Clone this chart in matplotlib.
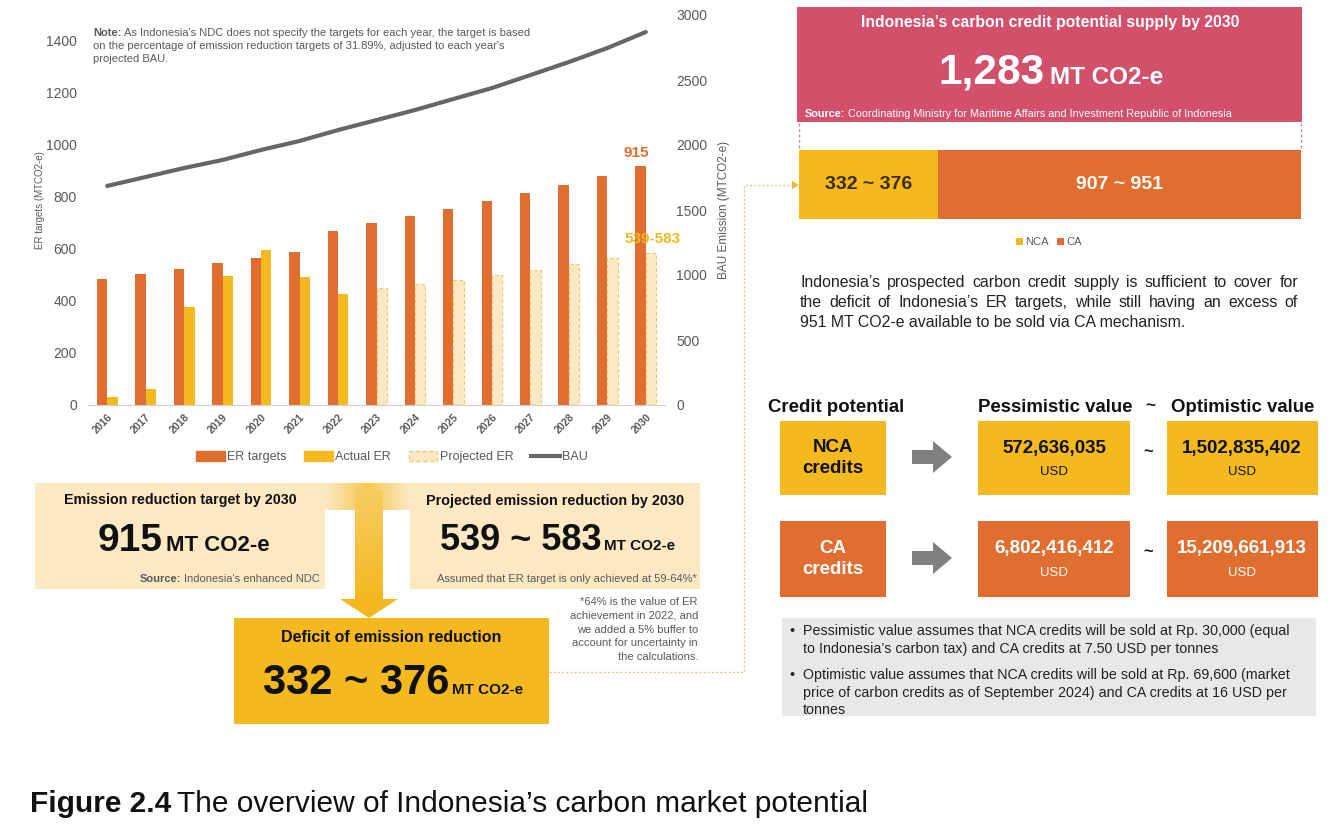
import numpy as np
import matplotlib
matplotlib.use("Agg")
import matplotlib.pyplot as plt
import matplotlib.font_manager as fm
from matplotlib.patches import Rectangle, Polygon, Patch
from matplotlib.lines import Line2D

# ---- data ----
years = [str(y) for y in range(2016, 2031)]
er_targets = [483, 502, 522, 544, 565, 587, 668, 697, 724, 752, 782, 812, 844, 877, 915]
actual_years = years[:7]
actual_er = [31, 61, 375, 495, 593, 492, 427]
proj_years = years[7:]
projected_er = [447, 465, 481, 500, 519, 541, 563, 583]
bau = [1685, 1754, 1823, 1885, 1962, 2031, 2115, 2192, 2269, 2354, 2438, 2538, 2638, 2746, 2869]

supply_labels = ["NCA", "CA"]
supply_mid = [354, 929]          # midpoints of 332~376 and 907~951
supply_text = ["332 ~ 376", "907 ~ 951"]

credit_rows = ["NCA\ncredits", "CA\ncredits"]
pessimistic = ["572,636,035", "6,802,416,412"]
optimistic = ["1,502,835,402", "15,209,661,913"]

# ---- style ----
names = {f.name for f in fm.fontManager.ttflist}
NARROW = "Liberation Sans Narrow" if "Liberation Sans Narrow" in names else "Liberation Sans"
SANS = "Liberation Sans"
plt.rcParams["font.family"] = [SANS, "DejaVu Sans"]

ORANGE = "#E06E31"
YELLOW = "#F4B91F"
PALE = "#FCE9C3"
PINK = "#D2506A"
GREY_TXT = "#595959"

W, H = 1331, 832
fig = plt.figure(figsize=(W / 100, H / 100), dpi=100)
renderer = fig.canvas.get_renderer()

# overlay in pixel coordinates
ov = fig.add_axes([0, 0, 1, 1], zorder=0)
ov.set_xlim(0, W)
ov.set_ylim(H, 0)
ov.axis("off")


def box(x0, y0, x1, y1, color, **kw):
    ov.add_patch(Rectangle((x0, y0), x1 - x0, y1 - y0, facecolor=color, lw=0, **kw))


def txt(x, y, s, **kw):
    kw.setdefault("family", SANS)
    return ov.text(x, y, s, **kw)


def after(artist, y, s, dx=3, **kw):
    # text placed right after another text artist on the same baseline
    kw.setdefault("family", SANS)
    return ov.annotate(s, xy=(1, y), xycoords=(artist, "data"), xytext=(dx, 0),
                       textcoords="offset points", va="baseline", ha="left", **kw)


def before(artist, y, s, dx=2, **kw):
    kw.setdefault("family", SANS)
    return ov.annotate(s, xy=(0, y), xycoords=(artist, "data"), xytext=(-dx, 0),
                       textcoords="offset points", va="baseline", ha="right", **kw)


def justify(x0, x1, y, line, **kw):
    words = line.split()
    arts = [txt(0, y, w, va="baseline", **kw) for w in words]
    widths = [a.get_window_extent(renderer).width for a in arts]
    gap = (x1 - x0 - sum(widths)) / (len(words) - 1)
    xx = x0
    for a, w in zip(arts, widths):
        a.set_x(xx)
        xx += w + gap


# ---- bar chart ----
ax = fig.add_axes([88 / W, 1 - 405 / H, (665 - 88) / W, (405 - 15) / H], facecolor="none", zorder=2)
x = np.arange(len(years))
bw = 0.27
ax.bar(x - bw / 2, er_targets, bw, color=ORANGE, label="ER targets")
ax.bar(x[:len(actual_er)] + bw / 2, actual_er, bw, color=YELLOW, label="Actual ER")
ax.bar(x[len(actual_er):] + bw / 2, projected_er, bw, facecolor=PALE, edgecolor="#EEC970",
       linestyle=(0, (3, 2)), lw=0.9, label="Projected ER")
ax.set_xlim(-0.5, len(years) - 0.5)
ax.set_ylim(0, 1496)
ax.set_yticks(range(0, 1401, 200))
ax.set_xticks(x)
ax.set_xticklabels(years, rotation=45, ha="right", rotation_mode="anchor")
for s in ["top", "left", "right"]:
    ax.spines[s].set_visible(False)
ax.spines["bottom"].set_color("#D0D0D0")
ax.tick_params(axis="both", length=0, colors=GREY_TXT)
ax.tick_params(axis="y", labelsize=10, pad=8)
ax.tick_params(axis="x", labelsize=7.5, pad=5)
for lab in ax.get_yticklabels() + ax.get_xticklabels():
    lab.set_family(NARROW)
for lab in ax.get_xticklabels():
    lab.set_fontweight("bold")

ax2 = ax.twinx()
ax2.plot(x, bau, color="#666666", lw=3, solid_capstyle="round")
ax2.set_ylim(0, 3000)
ax2.set_yticks(range(0, 3001, 500))
for s in ["top", "left", "right", "bottom"]:
    ax2.spines[s].set_visible(False)
ax2.tick_params(axis="y", length=0, colors=GREY_TXT, labelsize=10, pad=8)
for lab in ax2.get_yticklabels():
    lab.set_family(NARROW)

ax.annotate("915", xy=(x[-1] - bw / 2, er_targets[-1]), xytext=(-3, 5), textcoords="offset points",
            ha="center", va="bottom", color=ORANGE, fontsize=11, fontweight="bold", family=NARROW)
ax.annotate("539-583", xy=(x[-1] + bw / 2, projected_er[-1]), xytext=(1, 5), textcoords="offset points",
            ha="center", va="bottom", color=YELLOW, fontsize=11, fontweight="bold", family=NARROW)

handles = [Patch(color=ORANGE), Patch(color=YELLOW),
           Patch(facecolor=PALE, edgecolor="#EEC970", linestyle=(0, (3, 2))),
           Line2D([], [], color="#666666", lw=3)]
leg = ax.legend(handles, ["ER targets", "Actual ER", "Projected ER", "BAU"], loc="center",
                bbox_to_anchor=(392 / W, 1 - 457 / H), bbox_transform=fig.transFigure, ncol=4,
                frameon=False, handlelength=2.3, handleheight=0.8,
                handletextpad=0.2, columnspacing=1.4, prop={"family": NARROW, "size": 9})
for t in leg.get_texts():
    t.set_color(GREY_TXT)

fig.text(40 / W, 1 - 200 / H, "ER targets (MTCO2-e)", rotation=90, ha="center", va="center",
         fontsize=7, color=GREY_TXT)
fig.text(724 / W, 1 - 210 / H, "BAU Emission (MTCO2-e)", rotation=90, ha="center", va="center",
         fontsize=8.5, color=GREY_TXT)

# note
n1 = txt(93, 36, "Note:", fontsize=8, fontweight="bold", color=GREY_TXT, family=NARROW, va="baseline")
after(n1, 36, "As Indonesia's NDC does not specify the targets for each year, the target is based",
      dx=2, fontsize=8, color=GREY_TXT, family=NARROW)
txt(93, 49, "on the percentage of emission reduction targets of 31.89%, adjusted to each year's",
    fontsize=8, color=GREY_TXT, family=NARROW, va="baseline")
txt(93, 62, "projected BAU.", fontsize=8, color=GREY_TXT, family=NARROW, va="baseline")

# ---- left bottom boxes ----
box(35, 483, 325, 589, PALE)
box(410, 483, 700, 589, PALE)

# gradient connector
c_pale = np.array([252, 233, 195]) / 255
c_yel = np.array([244, 185, 31]) / 255
t = np.linspace(0, 1, 200)
wgt = 1 - np.abs(2 * t - 1)
hgrad = (c_pale[None, :] * (1 - 0.7 * wgt[:, None]) + c_yel[None, :] * 0.7 * wgt[:, None])[None, :, :]
ov.imshow(hgrad, extent=(325, 410, 510, 483), aspect="auto", zorder=1, interpolation="bilinear")
tv = np.linspace(0, 1, 200)
vgrad = (c_pale[None, :] * (0.4 * (1 - tv[:, None])) + c_yel[None, :] * (0.6 + 0.4 * tv[:, None]))
vgrad = np.clip(vgrad, 0, 1)[:, None, :].repeat(2, axis=1)
ov.imshow(vgrad, extent=(355, 383, 600, 490), aspect="auto", zorder=1, interpolation="bilinear")
ov.add_patch(Polygon([(340, 599), (398, 599), (369, 618)], closed=True, color=YELLOW, lw=0, zorder=1))
ov.set_xlim(0, W)
ov.set_ylim(H, 0)

box(234, 618, 549, 724, YELLOW, zorder=2)

txt(180, 500, "Emission reduction target by 2030", fontsize=10.3, fontweight="bold", family=NARROW,
    ha="center", va="center", color="#111111")
b915 = txt(98, 551, "915", fontsize=28, fontweight="bold", family=NARROW, va="baseline", color="#111111")
after(b915, 551, "MT CO2-e", dx=2, fontsize=16, fontweight="bold", family=NARROW, color="#111111")
s1 = txt(320, 582, "Indonesia's enhanced NDC", fontsize=8, family=NARROW, ha="right",
         va="baseline", color=GREY_TXT)
before(s1, 582, "Source:", dx=2, fontsize=8, family=NARROW, fontweight="bold", color=GREY_TXT)

txt(555, 501, "Projected emission reduction by 2030", fontsize=10.4, fontweight="bold", family=NARROW,
    ha="center", va="center", color="#111111")
b539 = txt(440, 550, "539 ~ 583", fontsize=26, fontweight="bold", family=NARROW, va="baseline",
           color="#111111")
after(b539, 550, "MT CO2-e", dx=2, fontsize=11, fontweight="bold", family=NARROW, color="#111111")
txt(697, 582, "Assumed that ER target is only achieved at 59-64%*", fontsize=8, family=NARROW,
    ha="right", va="baseline", color=GREY_TXT)

foot = ["*64% is the value of ER", "achievement in 2022, and", "we added a 5% buffer to",
        "account for uncertainty in", "the calculations."]
for i, line in enumerate(foot):
    txt(698, 605 + i * 13.8, line, fontsize=8, family=NARROW, ha="right", va="baseline",
        color=GREY_TXT)

txt(391, 637, "Deficit of emission reduction", fontsize=11.5, fontweight="bold", family=NARROW,
    ha="center", va="center", color="#111111", zorder=3)
b332 = txt(263, 694, "332 ~ 376", fontsize=30, fontweight="bold", family=NARROW, va="baseline",
           color="#111111", zorder=3)
after(b332, 694, "MT CO2-e", dx=2, fontsize=11, fontweight="bold", family=NARROW, color="#111111",
      zorder=3)

# dotted connector to supply bar
ov.plot([549, 744, 744, 792], [672, 672, 185, 185], color="#F0C27A", lw=1, ls=(0, (1.5, 1.5)), zorder=1)
ov.add_patch(Polygon([(792, 181), (792, 189), (799, 185)], closed=True, color="#F0B43C", lw=0))

# ---- right top ----
box(797, 7, 1302, 122, PINK)
txt(1050, 23, "Indonesia\u2019s carbon credit potential supply by 2030", fontsize=11.3, fontweight="bold",
    color="white", ha="center", va="center")
b1283 = txt(938, 84, "1,283", fontsize=30.5, fontweight="bold", color="white", va="baseline")
after(b1283, 84, "MT CO2-e", dx=4, fontsize=17.5, fontweight="bold", color="white")
src = txt(805, 117, "Source:", fontsize=7.8, fontweight="bold", color="white", va="baseline")
after(src, 117, "Coordinating Ministry for Maritime Affairs and Investment Republic of Indonesia",
      dx=2, fontsize=7.8, color="white")
for xx in (799, 1301):
    ov.plot([xx, xx], [123, 150], color="#C98A96", lw=1, ls=(0, (2, 2)))

bx = fig.add_axes([799 / W, 1 - 219 / H, (1301 - 799) / W, (219 - 150) / H], zorder=2)
left = 0
for lab, val, s, col, tc in zip(supply_labels, supply_mid, supply_text, [YELLOW, ORANGE],
                                ["#3A2A05", "white"]):
    bx.barh(0, val, left=left, height=1, color=col)
    bx.text(left + val / 2, 0, s, ha="center", va="center", fontsize=14, fontweight="bold", color=tc)
    left += val
bx.set_xlim(0, sum(supply_mid))
bx.set_ylim(-0.5, 0.5)
bx.axis("off")

ov.add_patch(Rectangle((1016, 238), 7, 7, color=YELLOW, lw=0))
txt(1025, 242, "NCA", fontsize=8, color=GREY_TXT, va="center")
ov.add_patch(Rectangle((1057, 238), 7, 7, color=ORANGE, lw=0))
txt(1066, 242, "CA", fontsize=8, color=GREY_TXT, va="center")

para = ["Indonesia\u2019s prospected carbon credit supply is sufficient to cover for",
        "the deficit of Indonesia\u2019s ER targets, while still having an excess of",
        "951 MT CO2-e available to be sold via CA mechanism."]
justify(800, 1298, 287, para[0], fontsize=11.4, color="#222222")
justify(800, 1298, 307, para[1], fontsize=11.4, color="#222222")
txt(800, 327, para[2], fontsize=11.4, color="#222222", va="baseline")

# ---- credit table ----
txt(768, 408, "Credit potential", fontsize=13.4, fontweight="bold", va="center", color="#111111")
txt(978, 408, "Pessimistic value", fontsize=13.4, fontweight="bold", va="center", color="#111111")
txt(1150, 406, "~", fontsize=12.5, fontweight="bold", va="center", ha="center", color="#111111")
txt(1171, 408, "Optimistic value", fontsize=13.4, fontweight="bold", va="center", color="#111111")

rows_y = [(421, 495), (521, 597)]
for (y0, y1), lab, pv, opv, col, tc in zip(rows_y, credit_rows, pessimistic, optimistic,
                                         [YELLOW, ORANGE], ["#111111", "white"]):
    box(780, y0, 886, y1, col)
    txt(833, (y0 + y1) / 2, lab, fontsize=13.5, fontweight="bold", ha="center", va="center",
        color=tc, linespacing=1.35)
    yc = (y0 + y1) / 2 - 1
    ov.add_patch(Polygon([(912, yc - 7), (933, yc - 7), (933, yc - 16), (952, yc), (933, yc + 16),
                          (933, yc + 7), (912, yc + 7)], closed=True, color="#808080", lw=0))
    box(978, y0, 1130, y1, col)
    txt(1054, yc - 9, pv, fontsize=13.5, fontweight="bold", ha="center", va="center", color=tc)
    txt(1054, yc + 15, "USD", fontsize=9.5, ha="center", va="center", color=tc)
    txt(1148, yc - 6, "~", fontsize=12, fontweight="bold", ha="center", va="center", color="#111111")
    box(1167, y0, 1318, y1, col)
    txt(1242, yc - 9, opv, fontsize=13.5, fontweight="bold", ha="center", va="center", color=tc)
    txt(1242, yc + 15, "USD", fontsize=9.5, ha="center", va="center", color=tc)

box(782, 618, 1316, 716, "#E8E8E8")
bul = [("\u2022", "Pessimistic value assumes that NCA credits will be sold at Rp. 30,000 (equal", 635),
       ("", "to Indonesia\u2019s carbon tax) and CA credits at 7.50 USD per tonnes", 653),
       ("\u2022", "Optimistic value assumes that NCA credits will be sold at Rp. 69,600 (market", 679),
       ("", "price of carbon credits as of September 2024) and CA credits at 16 USD per", 697),
       ("", "tonnes", 714)]
for b, line, yy in bul:
    if b:
        txt(789, yy, b, fontsize=10.3, color="#222222", va="baseline")
    txt(803, yy, line, fontsize=10.3, color="#222222", va="baseline")

# ---- caption ----
cap = txt(30, 812, "Figure 2.4", fontsize=21.5, fontweight="bold", family=NARROW, va="baseline",
          color="#111111")
after(cap, 812, "The overview of Indonesia\u2019s carbon market potential", dx=4, fontsize=21.5,
      family=NARROW, color="#111111")

fig.savefig("out.png", dpi=100)
